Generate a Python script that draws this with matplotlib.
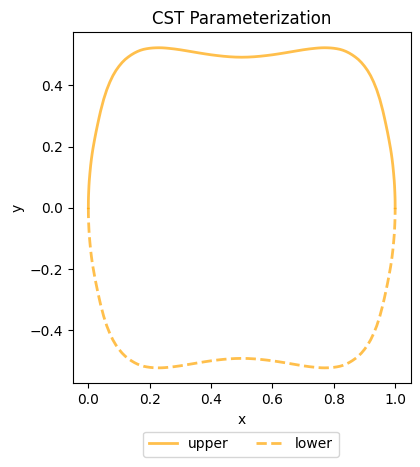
import matplotlib
matplotlib.use("Agg")
import matplotlib.pyplot as plt

x_left = [0.0, 0.0002, 0.0005, 0.001, 0.002, 0.003, 0.005, 0.0075, 0.01, 0.0125, 0.015, 0.02, 0.025, 0.03, 0.035, 0.04, 0.05, 0.06, 0.07, 0.08,
          0.09, 0.10, 0.11, 0.12, 0.13, 0.14, 0.15, 0.16, 0.17, 0.18, 0.19, 0.20, 0.21, 0.22, 0.23, 0.24, 0.25, 0.26, 0.28, 0.30,
          0.32, 0.34, 0.36, 0.38, 0.40, 0.42, 0.44, 0.46, 0.48, 0.50]
y_left = [0.0, 0.024, 0.036, 0.05, 0.072, 0.088, 0.112, 0.138, 0.159, 0.177, 0.193, 0.221, 0.247, 0.271, 0.294, 0.316, 0.354, 0.385, 0.41, 0.431,
          0.448, 0.462, 0.474, 0.484, 0.492, 0.499, 0.505, 0.51, 0.514, 0.517, 0.519, 0.5205, 0.5215, 0.522, 0.5222, 0.522, 0.5214, 0.5205, 0.5183, 0.5155,
          0.5122, 0.5088, 0.5054, 0.5022, 0.4992, 0.4967, 0.4945, 0.4928, 0.4917, 0.4913]
x_vals = x_left + [round(1 - v, 4) for v in reversed(x_left[:-1])]
y_upper = y_left + list(reversed(y_left[:-1]))
y_lower = [-v for v in y_upper]

fig = plt.figure(figsize=(4.2, 4.67), dpi=100)
ax = fig.add_axes([73/420, 1-383.3/467, (410.5-73)/420, (383.3-32.3)/467])
ax.plot(x_vals, y_upper, color="orange", alpha=0.7, lw=2, label="upper")
ax.plot(x_vals, y_lower, color="orange", alpha=0.7, lw=2, ls="--", label="lower")
ax.set_title("CST Parameterization")
ax.set_xlabel("x")
ax.set_ylabel("y")
ax.set_xlim(-0.05, 1.05)
ax.set_ylim(-0.5726, 0.5726)
ax.legend(loc="upper center", bbox_to_anchor=(0.498, -0.118), ncol=2)
fig.savefig("out.png", dpi=100)
